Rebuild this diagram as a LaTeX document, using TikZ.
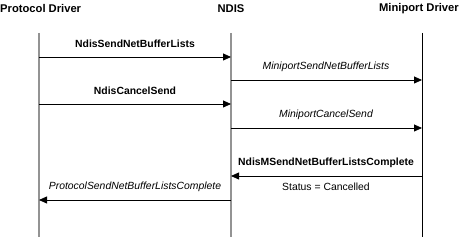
\documentclass[tikz,border=0pt]{standalone}
\usepackage{fontspec}
\setmainfont{Liberation Sans}
\usetikzlibrary{arrows.meta}
\begin{document}
\begin{tikzpicture}[x=1pt,y=-1pt,
  hdr/.style={font=\fontsize{11.2}{13}\selectfont\bfseries, inner sep=0pt},
  lbl/.style={font=\fontsize{10.4}{12}\selectfont, inner sep=0pt},
  blbl/.style={font=\fontsize{10.4}{12}\selectfont\bfseries, inner sep=0pt},
  ilbl/.style={font=\fontsize{10.4}{12}\selectfont\itshape, inner sep=0pt},
  lifeg/.style={draw=gray!85, line width=1.3pt},
  lifek/.style={draw=black, line width=0.8pt},
  msg/.style={draw=black, line width=0.8pt, -{Triangle[length=8pt,width=7pt]}}]
\useasboundingbox (0,0) rectangle (461,237);
\node[hdr, anchor=west] (hp) at (0,9) {Protocol Driver};
\node[hdr] (hn) at (231,9) {NDIS};
\node[hdr, anchor=east] (hm) at (459,9) {Miniport Driver};
% lifelines
\coordinate (p0) at (39,33); \coordinate (p1) at (39,237);
\coordinate (n0) at (231,33); \coordinate (n1) at (231,237);
\coordinate (m0) at (422,33); \coordinate (m1) at (422,237);
\draw[lifeg] (p0) -- (p1);
\draw[lifeg] (n0) -- (n1);
\draw[lifek] (m0) -- (m1);
% messages
\coordinate (a1s) at (39,57); \coordinate (a1e) at (231,57);
\draw[msg] (a1s) -- (a1e);
\node[blbl] (l1) at (135,44) {NdisSendNetBufferLists};
\coordinate (a2s) at (231,80); \coordinate (a2e) at (422,80);
\draw[msg] (a2s) -- (a2e);
\node[ilbl] (l2) at (326,67) {MiniportSendNetBufferLists};
\coordinate (a3s) at (39,104); \coordinate (a3e) at (231,104);
\draw[msg] (a3s) -- (a3e);
\node[blbl] (l3) at (135,91) {NdisCancelSend};
\coordinate (a4s) at (231,128); \coordinate (a4e) at (422,128);
\draw[msg] (a4s) -- (a4e);
\node[ilbl] (l4) at (326,115) {MiniportCancelSend};
\coordinate (a5s) at (422,176); \coordinate (a5e) at (231,176);
\draw[msg] (a5s) -- (a5e);
\node[blbl] (l5) at (326,163) {NdisMSendNetBufferListsComplete};
\node[lbl] (l5b) at (326,187) {Status = Cancelled};
\coordinate (a6s) at (231,200); \coordinate (a6e) at (39,200);
\draw[msg] (a6s) -- (a6e);
\node[ilbl] (l6) at (135,187) {ProtocolSendNetBufferListsComplete};
\end{tikzpicture}
\end{document}
